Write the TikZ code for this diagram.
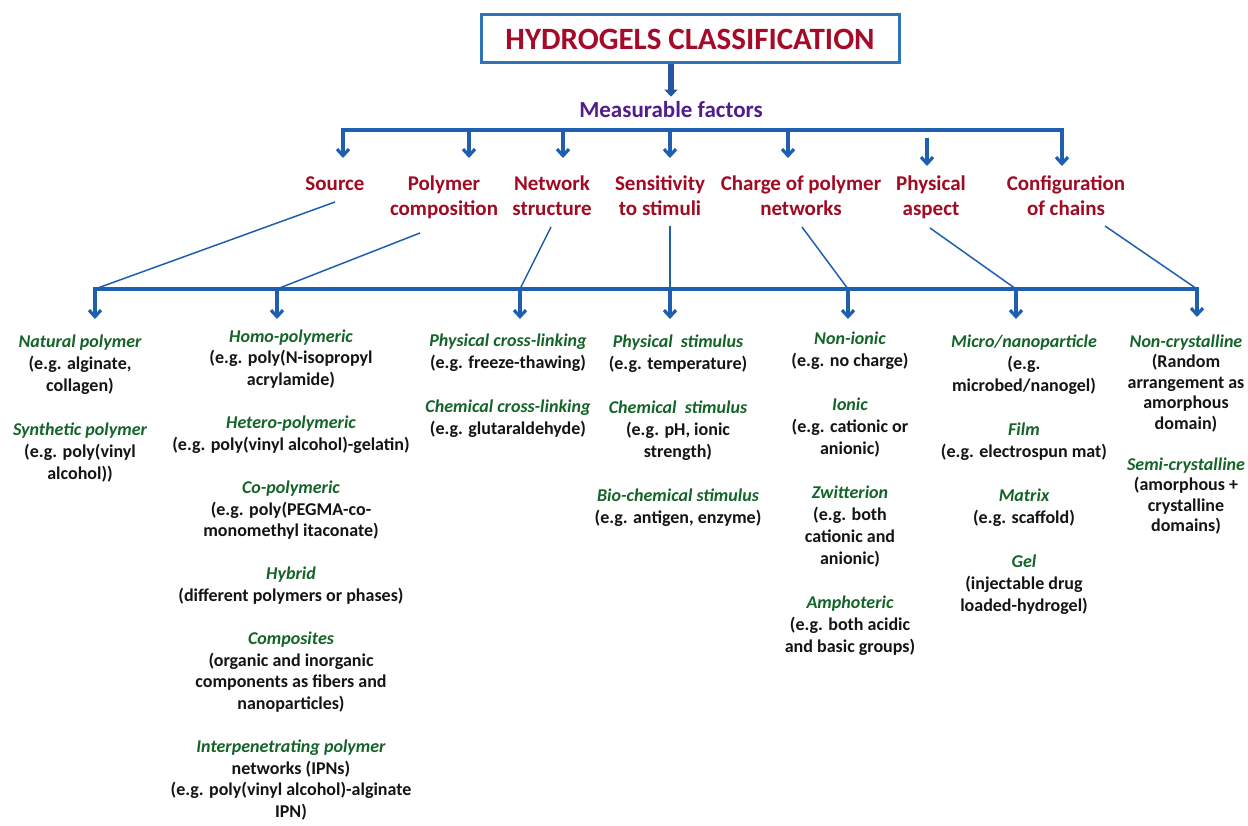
\documentclass[tikz,border=0pt]{standalone}
\usepackage{fontspec}
\setmainfont{Carlito}
\usetikzlibrary{arrows.meta}
\definecolor{busblue}{RGB}{30,95,175}
\definecolor{boxblue}{RGB}{46,117,182}
\definecolor{arrowblue}{RGB}{40,85,160}
\definecolor{titlered}{RGB}{165,10,40}
\definecolor{catred}{RGB}{160,10,35}
\definecolor{mfpurple}{RGB}{80,30,140}
\definecolor{lblgreen}{RGB}{20,100,40}
\definecolor{txtblack}{RGB}{20,20,20}
\newcommand\lblg[1]{{\color{lblgreen}\itshape #1}}
\newcommand\fstr{\rule{0pt}{14pt}}
\newcommand\cstr{\rule{0pt}{16pt}}
\begin{document}
\begin{tikzpicture}[x=1pt,y=-1pt,
  bus/.style={draw=busblue, line width=3.2pt, line join=miter},
  tipd/.style={-{Straight Barb[length=6.5pt,width=12pt]}},
  tipb/.style={{Straight Barb[length=6.5pt,width=12pt]}-{Straight Barb[length=6.5pt,width=12pt]}},
  thinl/.style={draw=busblue, line width=1.5pt},
  thickarr/.style={draw=arrowblue, line width=6pt, -{Triangle[length=7pt,width=13pt]}},
  cat/.style={font=\fontsize{21}{25}\selectfont\bfseries, text=catred, align=center, anchor=north, inner sep=0pt},
  item/.style={font=\fontsize{18}{22}\selectfont\bfseries, text=txtblack, align=center, anchor=north, inner sep=0pt}
]
\useasboundingbox[fill=white] (0,0) rectangle (1248,826);

% title
\node[draw=boxblue, line width=3pt, minimum width=418pt, minimum height=48pt, inner sep=0pt,
      font=\fontsize{31}{36}\selectfont\bfseries, text=titlered] (title) at (690,39) {HYDROGELS CLASSIFICATION};
\node[font=\fontsize{23}{27}\selectfont\bfseries, text=mfpurple, inner sep=0pt] (mf) at (671,110) {Measurable factors};
\draw[thickarr] (title.south -| mf.north) -- ([yshift=5pt]mf.north);

% categories
\node[cat] (c1) at (335,174) {\cstr Source};
\node[cat] (c2) at (444,174) {\cstr Polymer\\composition};
\node[cat] (c3) at (552,174) {\cstr Network\\structure};
\node[cat] (c4) at (660,174) {\cstr Sensitivity\\to stimuli};
\node[cat] (c5) at (801,174) {\cstr Charge of polymer\\networks};
\node[cat] (c6) at (931,174) {\cstr Physical\\aspect};
\node[cat] (c7) at (1066,174) {\cstr Configuration\\of chains};

% top bus
\coordinate (tb1) at (343,130); \coordinate (ta1) at (343,158);
\coordinate (tb2) at (469,130); \coordinate (ta2) at (469,158);
\coordinate (tb3) at (563,130); \coordinate (ta3) at (563,158);
\coordinate (tb4) at (670,130); \coordinate (ta4) at (670,158);
\coordinate (tb5) at (788,130); \coordinate (ta5) at (788,158);
\coordinate (tb6) at (927,138); \coordinate (ta6) at (927,166);
\coordinate (tb7) at (1062,130); \coordinate (ta7) at (1062,166);
\draw[bus,tipb] (ta1) -- (tb1) -- (tb7) -- (ta7);
\foreach \i in {2,3,4,5,6} \draw[bus,tipd] (tb\i) -- (ta\i);

% diagonal connectors from categories to the lower bus
\coordinate (s1) at (335,202);
\coordinate (s2) at (420,233);
\coordinate (s3) at (551,227);
\coordinate (s4) at (670,226);
\coordinate (s5) at (802,227);
\coordinate (s6) at (930,228);
\coordinate (s7) at (1105,226);

% lower bus
\coordinate (bb1) at (95,289);   \coordinate (ba1) at (95,319);
\coordinate (bb2) at (277,289);  \coordinate (ba2) at (277,319);
\coordinate (bb3) at (520,289);  \coordinate (ba3) at (520,319);
\coordinate (bb4) at (670,289);  \coordinate (ba4) at (670,319);
\coordinate (bb5) at (848,289);  \coordinate (ba5) at (848,319);
\coordinate (bb6) at (1016,289); \coordinate (ba6) at (1016,319);
\coordinate (bb7) at (1197,289); \coordinate (ba7) at (1197,317);
\foreach \i in {1,...,7} \draw[thinl] (s\i) -- (bb\i);
\draw[bus,tipb] (ba1) -- (bb1) -- (bb7) -- (ba7);
\foreach \i in {2,3,4,5,6} \draw[bus,tipd] (bb\i) -- (ba\i);

% items
\node[item] (i1) at (80,333) {\fstr\lblg{Natural polymer}\\(e.g. alginate,\\collagen)\\[22pt]
  \lblg{Synthetic polymer}\\(e.g. poly(vinyl\\alcohol))};
\node[item, font=\fontsize{18}{21.6}\selectfont\bfseries] (i2) at (291,328) {\fstr\lblg{Homo-polymeric}\\(e.g. poly(N-isopropyl\\acrylamide)\\[21.6pt]
  \lblg{Hetero-polymeric}\\(e.g. poly(vinyl alcohol)-gelatin)\\[21.6pt]
  \lblg{Co-polymeric}\\(e.g. poly(PEGMA-co-\\monomethyl itaconate)\\[21.6pt]
  \lblg{Hybrid}\\(different polymers or phases)\\[21.6pt]
  \lblg{Composites}\\(organic and inorganic\\components as fibers and\\nanoparticles)\\[21.6pt]
  \lblg{Interpenetrating polymer}\\networks (IPNs)\\(e.g. poly(vinyl alcohol)-alginate\\IPN)};
\node[item] (i3) at (508,332) {\fstr\lblg{Physical cross-linking}\\(e.g. freeze-thawing)\\[22pt]
  \lblg{Chemical cross-linking}\\(e.g. glutaraldehyde)};
\node[item] (i4) at (678,333) {\fstr\lblg{Physical\ \ stimulus}\\(e.g. temperature)\\[22pt]
  \lblg{Chemical\ \ stimulus}\\(e.g. pH, ionic\\strength)\\[22pt]
  \lblg{Bio-chemical stimulus}\\(e.g. antigen, enzyme)};
\node[item] (i5) at (850,330) {\fstr\lblg{Non-ionic}\\(e.g. no charge)\\[22pt]
  \lblg{Ionic}\\(e.g. cationic or\\anionic)\\[22pt]
  \lblg{Zwitterion}\\(e.g. both\\cationic and\\anionic)\\[22pt]
  \lblg{Amphoteric}\\(e.g. both acidic\\and basic groups)};
\node[item] (i6) at (1024,333) {\fstr\lblg{Micro/nanoparticle}\\(e.g.\\microbed/nanogel)\\[22pt]
  \lblg{Film}\\(e.g. electrospun mat)\\[22pt]
  \lblg{Matrix}\\(e.g. scaffold)\\[22pt]
  \lblg{Gel}\\(injectable drug\\loaded-hydrogel)};
\node[item, font=\fontsize{18}{20.5}\selectfont\bfseries] (i7) at (1186,333) {\fstr\lblg{Non-crystalline}\\(Random\\arrangement as\\amorphous\\domain)\\[20.5pt]
  \lblg{Semi-crystalline}\\(amorphous +\\crystalline\\domains)};
\end{tikzpicture}
\end{document}
